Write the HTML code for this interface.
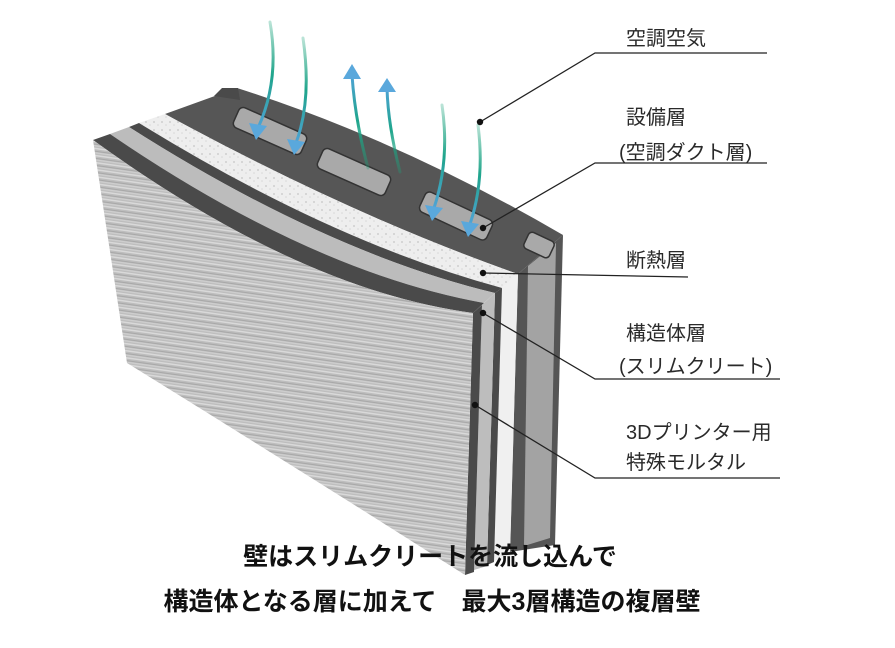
<!DOCTYPE html>
<html><head><meta charset="utf-8"><style>
html,body{margin:0;padding:0;background:#fff;}
svg{display:block}
text{font-family:"Liberation Sans","Noto Sans CJK JP",sans-serif;fill:#2a2a2a;}
.cap{font-weight:bold;fill:#111;font-size:25px;}
</style></head><body>
<svg width="895" height="648" viewBox="0 0 895 648" xmlns="http://www.w3.org/2000/svg">
<defs>
<pattern id="tex" width="300" height="7" patternUnits="userSpaceOnUse" patternTransform="rotate(8)">
<rect width="300" height="7" fill="#bdbdbd"/>
<rect y="0" width="300" height="1.5" fill="#d9d9d9"/>
<rect y="3" width="300" height="1" fill="#a8a8a8"/>
<rect y="4.5" width="300" height="1.2" fill="#cfcfcf"/>
</pattern>
<pattern id="foam" width="8" height="8" patternUnits="userSpaceOnUse">
<rect width="8" height="8" fill="#eeeeee"/>
<circle cx="2" cy="2" r="1" fill="#cfcfcf"/><circle cx="6" cy="5" r="0.8" fill="#d8d8d8"/>
</pattern>
<linearGradient id="ar" x1="0" y1="0" x2="0" y2="1">
<stop offset="0" stop-color="#1aa37a" stop-opacity="0.3"/><stop offset="0.5" stop-color="#1fa58c"/><stop offset="1" stop-color="#4fa3d6"/>
</linearGradient>
<linearGradient id="au" x1="0" y1="1" x2="0" y2="0">
<stop offset="0" stop-color="#1aa37a" stop-opacity="0.3"/><stop offset="0.5" stop-color="#1fa58c"/><stop offset="1" stop-color="#4fa3d6"/>
</linearGradient>
</defs>

<polygon points="518,274 563,235 555,545 510,552" fill="#555"/>
<polygon points="528,266 556,243 550,538 524,546" fill="#a3a3a3"/>
<polygon points="502,288 518,274 510,556 494,561" fill="#f0f0f0"/>
<polygon points="495,293 502,288 494,562 487,565" fill="#4a4a4a"/>
<polygon points="482,305 495,293 487,566 474,570" fill="#bdbdbd"/>
<polygon points="473,313 482,305 474,572 465,575" fill="#4a4a4a"/>

<path d="M165,114 Q350,215 518,274 L563,235 Q400,140 237,88 Z" fill="#565656"/>
<path d="M139,123 Q332,242 502,288 L518,274 Q350,215 165,114 Z" fill="url(#foam)"/>
<path d="M129,127 Q325,252 495,293 L502,288 Q332,242 139,123 Z" fill="#4a4a4a"/>
<path d="M110,134 Q312,272 484,303 L495,293 Q325,252 129,127 Z" fill="#bcbcbc"/>
<path d="M93,140 Q300,290 473,313 L484,303 Q312,272 110,134 Z" fill="#4a4a4a"/>
<path d="M214,96 L222,88 L238,88 L240,100 Z" fill="#4a4a4a"/>
<g stroke="#333" stroke-width="1.5" fill="#a9a9a9">
<rect x="-37" y="-11" width="74" height="22" rx="5" transform="translate(270,131) rotate(24)"/>
<rect x="-37" y="-11" width="74" height="22" rx="5" transform="translate(354,172) rotate(24)"/>
<rect x="-37" y="-11" width="74" height="22" rx="5" transform="translate(456,216) rotate(25)"/>
<rect x="-14" y="-9" width="28" height="18" rx="4" transform="translate(539,245) rotate(25)"/>
</g>

<path d="M93,140 Q300,290 473,313 L465,575 Q300,470 127,363 Z" fill="url(#tex)"/>

<g fill="none" stroke-width="3" stroke-linecap="round">
<path d="M270,22 Q280,80 258,128" stroke="url(#ar)"/>
<path d="M303,38 Q312,100 296,143" stroke="url(#ar)"/>
<path d="M442,105 Q450,160 434,208" stroke="url(#ar)"/>
<path d="M478,125 Q485,180 470,224" stroke="url(#ar)"/>
<path d="M368,168 Q355,120 352,75" stroke="url(#au)"/>
<path d="M400,172 Q388,125 387,88" stroke="url(#au)"/>
</g>
<g fill="#5aa8dc">
<polygon points="249,123 267,126 256,140"/>
<polygon points="287,139 305,142 294,155"/>
<polygon points="425,205 443,208 432,221"/>
<polygon points="461,221 479,224 468,237"/>
<polygon points="343,79 361,79 352,64"/>
<polygon points="378,92 396,92 387,78"/>
</g>

<g stroke="#222" stroke-width="1.3" fill="none">
<polyline points="480,122 595,53 767,53"/>
<polyline points="483,228 595,163 767,163"/>
<polyline points="483,273 688,277"/>
<polyline points="483,313 595,379 780,379"/>
<polyline points="475,405 595,478 780,478"/>
</g>
<g fill="#111">
<circle cx="480" cy="122" r="3.2"/><circle cx="483" cy="228" r="3.2"/><circle cx="483" cy="273" r="3.2"/><circle cx="483" cy="313" r="3.2"/><circle cx="475" cy="405" r="3.2"/>
</g>

<g font-size="20">
<text x="626" y="45">空調空気</text>
<text x="626" y="124">設備層</text>
<text x="619" y="159">(空調ダクト層)</text>
<text x="626" y="267">断熱層</text>
<text x="626" y="340">構造体層</text>
<text x="619" y="373">(スリムクリート)</text>
<text x="626" y="439">3Dプリンター用</text>
<text x="626" y="469">特殊モルタル</text>
</g>
<text class="cap" x="430" y="565" text-anchor="middle">壁はスリムクリートを流し込んで</text>
<text class="cap" x="432" y="610" text-anchor="middle">構造体となる層に加えて　最大3層構造の複層壁</text>
</svg>
</body></html>
